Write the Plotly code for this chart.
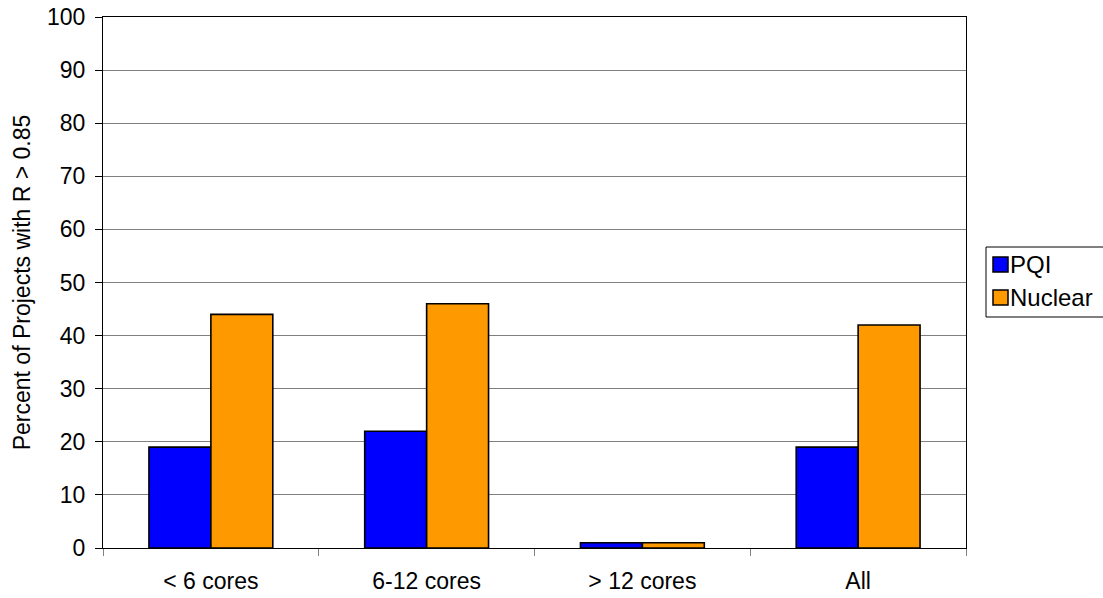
import plotly.graph_objects as go

categories = ["< 6 cores", "6-12 cores", "> 12 cores", "All"]
pqi = [19, 22, 1, 19]
nuclear = [44, 46, 1, 42]
y_ticks = [0, 10, 20, 30, 40, 50, 60, 70, 80, 90, 100]

series = [("PQI", pqi, "#0000FF"), ("Nuclear", nuclear, "#FF9900")]

FS = 23
W, H = 1103, 598
L, R, T, B = 103, 137, 17, 50
PW, PH = W - L - R, H - T - B


def px_x(x):
    return (x - L) / PW


def px_y(y):
    return (H - B - y) / PH


fig = go.Figure()
for name, vals, col in series:
    fig.add_trace(go.Bar(name=name, x=categories, y=vals, showlegend=False,
                         marker=dict(color=col, line=dict(color="black", width=1.6))))

# hand-drawn legend (to match the compact legend of the reference)
shapes = [dict(type="rect", xref="paper", yref="paper",
               x0=px_x(986), x1=px_x(1115), y0=px_y(317), y1=px_y(247),
               line=dict(color="black", width=1), fillcolor="white", layer="above")]
annotations = []
for i, (name, vals, col) in enumerate(series):
    top = 257 + 33 * i
    shapes.append(dict(type="rect", xref="paper", yref="paper",
                       x0=px_x(993), x1=px_x(1008), y0=px_y(top + 15), y1=px_y(top),
                       line=dict(color="black", width=1.5), fillcolor=col, layer="above"))
    annotations.append(dict(text=name, xref="paper", yref="paper", x=px_x(1009), y=px_y(top + 7.5),
                            xanchor="left", yanchor="middle", showarrow=False,
                            font=dict(size=24, color="black"), borderpad=0))

fig.update_layout(
    width=W, height=H,
    margin=dict(l=L, r=R, t=T, b=B, autoexpand=False),
    paper_bgcolor="white", plot_bgcolor="white",
    font=dict(family="Liberation Sans, Arial, sans-serif", size=FS, color="black"),
    barmode="group", bargap=0.426, bargroupgap=0,
    showlegend=False,
    shapes=shapes, annotations=annotations,
)
fig.update_xaxes(showline=True, linecolor="black", linewidth=1, ticks="outside",
                 tickson="boundaries", ticklen=7, tickcolor="#808080", showgrid=False,
                 mirror=True, tickfont=dict(size=FS), ticklabelstandoff=12,
                 ticklabeloverflow="allow")
fig.update_yaxes(range=[0, 100], tickvals=y_ticks, showline=True, linecolor="black", linewidth=1,
                 ticks="outside", ticklen=7, tickcolor="black", showgrid=True, gridcolor="#808080",
                 gridwidth=1, mirror=True, zeroline=False, tickfont=dict(size=FS),
                 ticklabelstandoff=5, ticklabeloverflow="allow",
                 title=dict(text="Percent of Projects with R > 0.85", standoff=9, font=dict(size=FS)))

fig.write_html("out.html", config={"displayModeBar": False},
               post_script="document.body.style.margin='0';document.body.style.overflow='hidden';")
